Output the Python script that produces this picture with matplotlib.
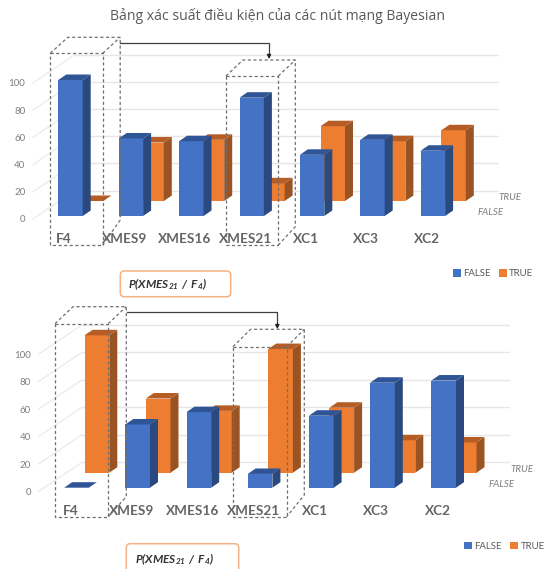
import matplotlib
matplotlib.use("Agg")
import matplotlib.pyplot as plt
from matplotlib.patches import FancyBboxPatch, Polygon

plt.rcParams['font.family'] = ['Lato', 'Open Sans', 'DejaVu Sans']
plt.rcParams['mathtext.fontset'] = 'custom'
plt.rcParams['mathtext.bfit'] = 'Lato:italic:bold'
plt.rcParams['mathtext.rm'] = 'Lato'

W, H = 548, 569

# values
categories = ["F4", "XMES9", "XMES16", "XMES21", "XC1", "XC3", "XC2"]
yticks = [0, 20, 40, 60, 80, 100]
title = "Bảng xác suất điều kiện của các nút mạng Bayesian"
box_text = r"$\mathbfit{P(XMES_{21}\ /\ F_{4})}$"

false_top = [100, 57, 55, 87, 45, 56, 48]
true_top = [0, 43, 45, 13, 55, 44, 52]
false_bottom = [0, 46, 55, 10, 52.4, 76.4, 78]
true_bottom = [100, 54, 45, 90, 47.3, 23.6, 22]

BLUE, BLUE_SIDE, BLUE_TOP = "#4472c4", "#2a4a7f", "#2f5597"
ORANGE, ORANGE_SIDE, ORANGE_TOP = "#ed7d31", "#9a5323", "#b55d24"
GREY = "#7f7f7f"
DASH = "#6f6f6f"

fig = plt.figure(figsize=(W / 100, H / 100), dpi=100)


def panel(fvals, tvals, floor, unit, x0, step, bw, left, right, grid_x, back_px,
          true_dx, false_base, true_base, tick_shift, leg_x, leg_y, tr_lab, fa_lab):
    # axes in which y=0 sits on the front floor, x=i is the i-th category
    top_px = floor - 125 * unit
    ax = fig.add_axes([left / W, 1 - floor / H, (right - left) / W, (floor - top_px) / H])
    ax.set_ylim(0, 125)
    xc = x0 + bw / 2
    ax.set_xlim((left - xc) / step, (right - xc) / step)
    ax.patch.set_alpha(0)
    for s in ax.spines.values():
        s.set_visible(False)

    b_false = false_base / unit
    b_true = true_base / unit
    b_back = back_px / unit
    w = bw / step
    dx = 8 / step
    dy = 5.5 / unit
    shift = true_dx / step

    # back wall lines and the diagonals on the side wall
    gx = (grid_x - xc) / step
    lx = (left - xc) / step
    for v in yticks:
        ax.plot([gx, (right - xc) / step], [v + b_back, v + b_back], color="#e6e6e6", lw=1, zorder=1)
        ax.plot([lx, gx], [v, v + b_back], color="#ececec", lw=1, zorder=1, clip_on=False)

    def bars(offset, vals, base, c, cs, ct, z):
        xs = [i + offset for i in range(len(vals))]
        cont = ax.bar(xs, vals, w, bottom=base, color=c, zorder=z, clip_on=False)
        for x, v in zip(xs, vals):
            l, r, t = x - w / 2, x + w / 2, base + v
            ax.add_patch(Polygon([(r, base), (r + dx, base + dy), (r + dx, t + dy), (r, t)],
                                 color=cs, lw=0, zorder=z, clip_on=False))
            ax.add_patch(Polygon([(l, t), (l + dx, t + dy), (r + dx, t + dy), (r, t)],
                                 color=ct, lw=0, zorder=z, clip_on=False))
        return cont

    c_true = bars(shift, tvals, b_true, ORANGE, ORANGE_SIDE, ORANGE_TOP, 2)
    c_false = bars(0, fvals, b_false, BLUE, BLUE_SIDE, BLUE_TOP, 3)

    ax.set_yticks(yticks)
    ax.tick_params(axis="y", length=0, pad=5.5, labelsize=7, labelcolor=GREY)
    ax.set_xticks([i + tick_shift for i in range(len(categories))])
    ax.set_xticklabels(categories, fontsize=9.8, fontweight="bold", color="#666666")
    ax.tick_params(axis="x", length=0, pad=10)

    ax.legend([c_false, c_true], ["FALSE", "TRUE"], loc="center left",
              bbox_to_anchor=(leg_x / W, 1 - leg_y / H), bbox_transform=fig.transFigure,
              ncol=2, frameon=False, fontsize=6.9, labelcolor="#595959", borderpad=0, borderaxespad=0,
              handlelength=0.85, handleheight=0.85, handletextpad=0.25, columnspacing=0.85)

    ov.text(tr_lab[0], tr_lab[1], "TRUE", style="italic", fontsize=7, color=GREY, ha="center", va="center")
    ov.text(fa_lab[0], fa_lab[1], "FALSE", style="italic", fontsize=7, color=GREY, ha="center", va="center")
    return ax


def dashed_box(x1, x2, top, bottom, bx, back_top, back_bottom):
    # front rectangle, then the back edges going up and right
    kw = dict(color=DASH, lw=0.9, ls=(0, (2.5, 2)), zorder=10)
    ov.plot([x1, x2, x2, x1, x1], [top, top, bottom, bottom, top], **kw)
    ov.plot([x1, x1 + bx, x2 + bx, x2 + bx, x2], [top, back_top, back_top, back_bottom, bottom], **kw)
    ov.plot([x2, x2 + bx], [top, back_top], **kw)


def label_box(x1, x2, y1, y2):
    ov.add_patch(FancyBboxPatch((x1 + 4, y1 + 4), x2 - x1 - 8, y2 - y1 - 8,
                                boxstyle="round,pad=4,rounding_size=4",
                                fc="white", ec="#f4b183", lw=1.1, zorder=10))
    ov.text((x1 + x2) / 2 - 8.5, (y1 + y2) / 2, box_text, fontsize=8.5, color="#333333",
            ha="center", va="center", zorder=11)


def link(x1, x2, y, y_end):
    ov.plot([x1, x2, x2], [y, y, y_end - 3], color="#404040", lw=0.9, zorder=11)
    ov.annotate("", xy=(x2, y_end), xytext=(x2, y_end - 5),
                arrowprops=dict(arrowstyle="-|>", color="#202020", lw=0.8, mutation_scale=6,
                                shrinkA=0, shrinkB=0), zorder=11)


# overlay in picture pixels for the hand-drawn callouts
ov = fig.add_axes([0, 0, 1, 1], zorder=5)
ov.set_xlim(0, W)
ov.set_ylim(H, 0)
ov.axis("off")

ov.text(277, 16, title, fontsize=10.1, color="#595959", ha="center", va="center", family=['Open Sans', 'DejaVu Sans'])

panel(false_top, true_top, floor=219, unit=1.36, x0=58.3, step=60.4, bw=24.4,
      left=33, right=499, grid_x=75, back_px=28.5, true_dx=20.7, false_base=3, true_base=18,
      tick_shift=-0.105, leg_x=452.5, leg_y=273.5, tr_lab=(510, 197), fa_lab=(491, 212.7))
panel(false_bottom, true_bottom, floor=491.5, unit=1.374, x0=64.1, step=61.2, bw=24.7,
      left=38.5, right=510, grid_x=82, back_px=29.2, true_dx=20.5, false_base=3.8, true_base=18.8,
      tick_shift=-0.1, leg_x=464, leg_y=546.3, tr_lab=(522, 469.3), fa_lab=(502, 484.7))

dashed_box(50.3, 102.7, 53.3, 245, 17.5, 37.3, 220)
dashed_box(226, 278.3, 76, 245, 17, 60, 226.7)
link(120, 269, 43, 59)
label_box(120.3, 230.7, 271, 296.7)

dashed_box(55, 108.3, 323.7, 516.7, 18, 306.7, 496.7)
dashed_box(233, 286.7, 346.7, 516.7, 17.6, 329.3, 495)
link(127, 277.3, 312.3, 329)
label_box(126.3, 238.7, 543.7, 575)

fig.savefig("out.png", dpi=100)
